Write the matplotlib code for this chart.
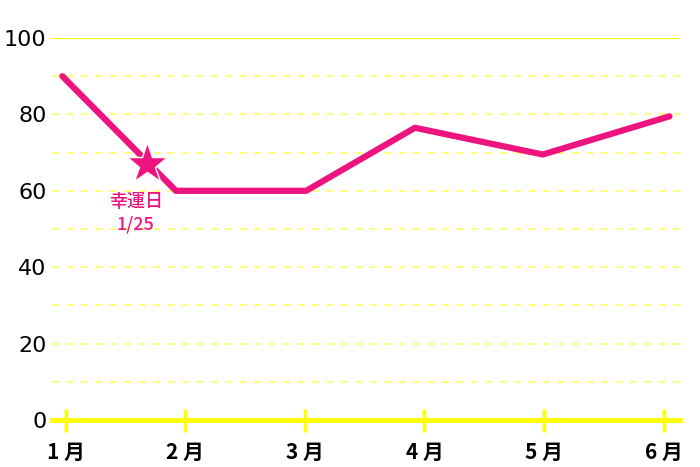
import matplotlib.pyplot as plt

plt.rcParams['font.family'] = ['Noto Sans CJK JP', 'DejaVu Sans']

# data (x in month units, 0 = January)
months = ['1 月', '2 月', '3 月', '4 月', '5 月', '6 月']
line_x = [-0.03, 0.92, 2.01, 2.92, 3.99, 5.05]
line_y = [90, 60, 60, 76.5, 69.5, 79.5]
star_x = [0.68]
star_y = [67]
star_label = '幸運日\n1/25'
yticks = [0, 20, 40, 60, 80, 100]

pink = '#EE1480'
yellow = '#FFFF00'

fig = plt.figure(figsize=(7, 4.67), dpi=100)
ax = fig.add_axes([52/700, 47/467, 628/700, 382/467])
ax.set_xlim(-0.117, 5.138)
ax.set_ylim(0, 100)

# grid
for v in range(10, 100, 10):
    ax.axhline(v, color='#FFFF70', lw=1.3, ls=(0, (4, 4)), zorder=1)
ax.axhline(100, color=yellow, lw=1.5, zorder=1)
ax.axhline(0, color=yellow, lw=3.5, zorder=2, clip_on=False)
for i in range(len(months)):
    ax.plot([i, i], [-3.2, 3.0], color=yellow, lw=2.5, clip_on=False,
            solid_capstyle='butt', zorder=2)

ax.plot(line_x, line_y, color=pink, lw=4.5, solid_capstyle='round',
        solid_joinstyle='round', zorder=3, clip_on=False)
ax.plot(star_x, star_y, marker='*', color=pink, markersize=31,
        markeredgecolor='white', markeredgewidth=1, ls='none', zorder=4)
ax.text(star_x[0] - 0.095, star_y[0] - 7.6, star_label, color=pink,
        fontsize=13, fontweight='medium', ha='center', va='top',
        linespacing=1.3, zorder=4)

for s in ax.spines.values():
    s.set_visible(False)
ax.set_xticks(range(len(months)))
ax.set_xticklabels(months, fontsize=15, fontweight='bold')
ax.set_yticks(yticks)
ax.set_yticklabels([str(v) for v in yticks], fontsize=16,
                   family=['DejaVu Sans'])
ax.tick_params(length=0, pad=4)
ax.tick_params(axis='x', pad=16)

fig.savefig('out.png', dpi=100)
